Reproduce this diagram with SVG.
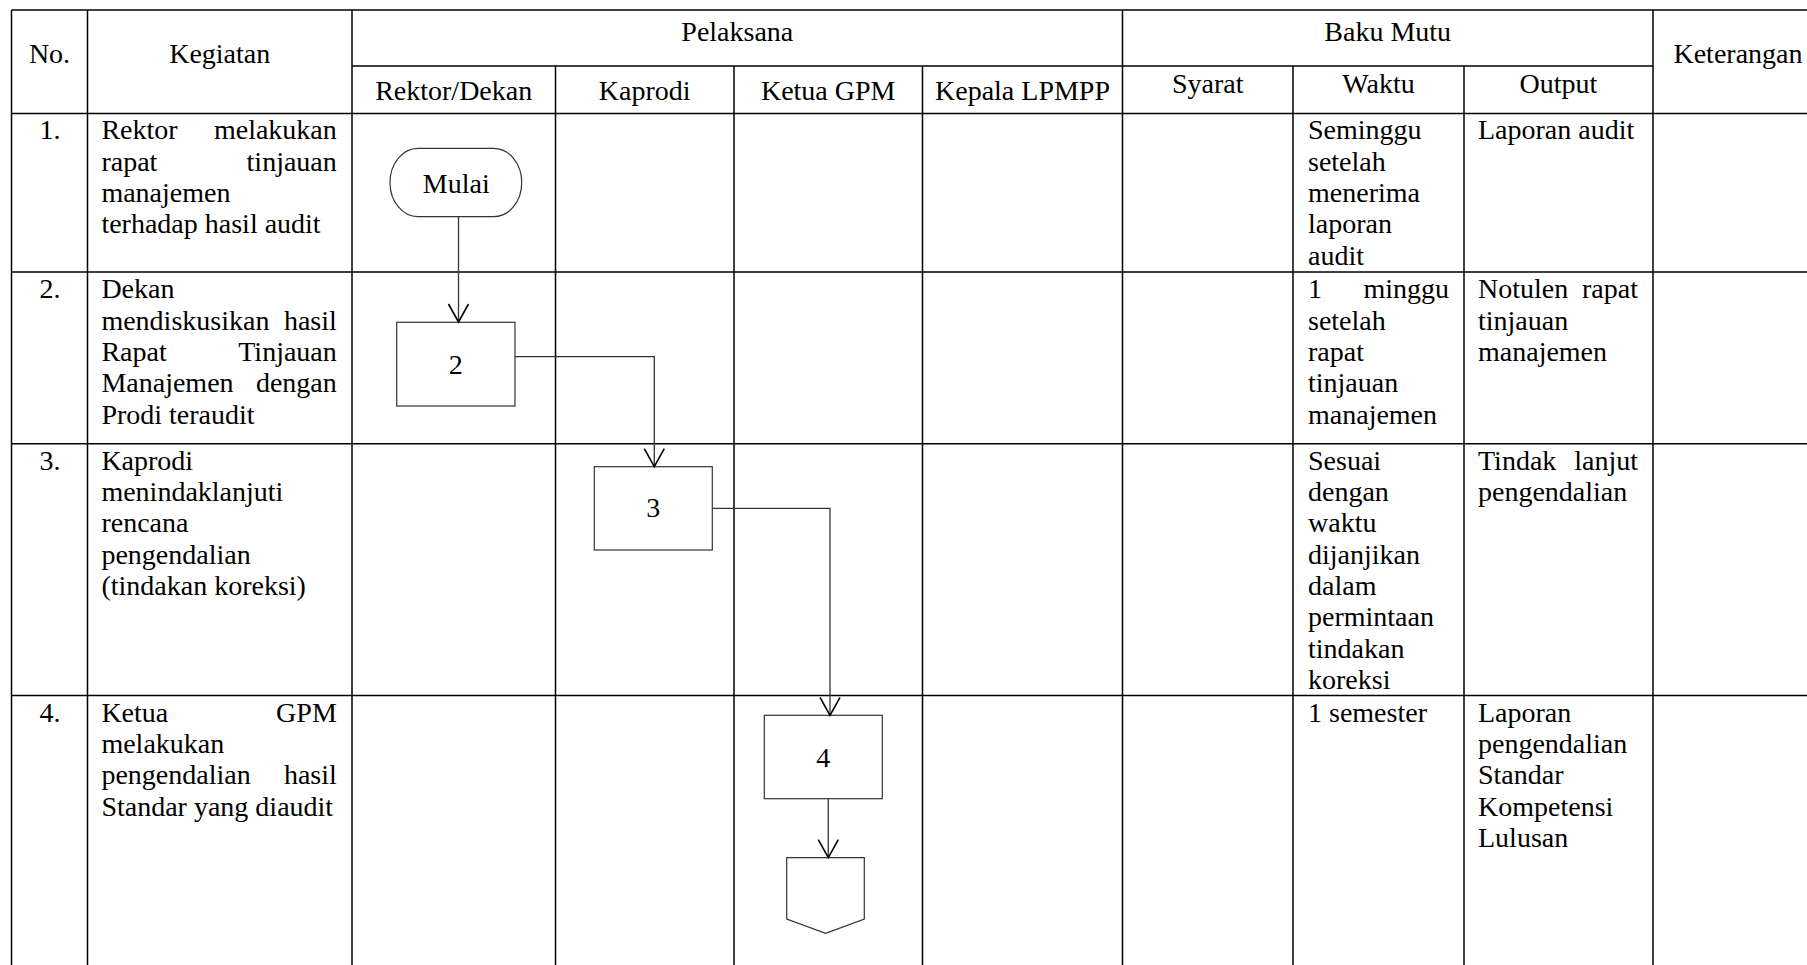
<svg xmlns="http://www.w3.org/2000/svg" width="1807" height="965" viewBox="0 0 1807 965">
<style>
  .grid line{stroke:#000;stroke-width:1.5;}
  .t{font-family:"Liberation Serif","Times New Roman",serif;font-size:28px;fill:#000;}
  .c{text-anchor:middle;}
  .e{text-anchor:end;}
  .shape{fill:#fff;stroke:#333;stroke-width:1.2;}
  .conn path{fill:none;stroke:#333;stroke-width:1.3;}
</style>
<defs>
  <marker id="arr" markerUnits="userSpaceOnUse" viewBox="-1 -1 22 22" markerWidth="22" markerHeight="22" refX="18" refY="10" orient="auto" overflow="visible">
    <path d="M0,0 L18,10 L0,20" fill="none" stroke="#000" stroke-width="1.6"/>
  </marker>
</defs>
<rect x="0" y="0" width="1807" height="965" fill="#fff"/>

<g id="table" class="grid">
  <line x1="11.5" y1="10" x2="1807" y2="10"/>
  <line x1="352" y1="66" x2="1653" y2="66"/>
  <line x1="11.5" y1="113.5" x2="1807" y2="113.5"/>
  <line x1="11.5" y1="272" x2="1807" y2="272"/>
  <line x1="11.5" y1="443.7" x2="1807" y2="443.7"/>
  <line x1="11.5" y1="695.5" x2="1807" y2="695.5"/>
  <line x1="11.5" y1="10" x2="11.5" y2="965"/>
  <line x1="87.5" y1="10" x2="87.5" y2="965"/>
  <line x1="352" y1="10" x2="352" y2="965"/>
  <line x1="555.5" y1="66" x2="555.5" y2="965"/>
  <line x1="734" y1="66" x2="734" y2="965"/>
  <line x1="922.5" y1="66" x2="922.5" y2="965"/>
  <line x1="1122.5" y1="10" x2="1122.5" y2="965"/>
  <line x1="1293" y1="66" x2="1293" y2="965"/>
  <line x1="1464" y1="66" x2="1464" y2="965"/>
  <line x1="1653" y1="10" x2="1653" y2="965"/>
</g>

<g id="header" class="t">
  <text class="c" x="49.5" y="63">No.</text>
  <text class="c" x="219.7" y="63">Kegiatan</text>
  <text class="c" x="737.3" y="40.7">Pelaksana</text>
  <text class="c" x="1387.7" y="40.7">Baku Mutu</text>
  <text class="c" x="1738" y="63">Keterangan</text>
  <text class="c" x="453.7" y="100">Rektor/Dekan</text>
  <text class="c" x="644.7" y="100">Kaprodi</text>
  <text class="c" x="828.2" y="100">Ketua GPM</text>
  <text class="c" x="1022.5" y="100">Kepala LPMPP</text>
  <text class="c" x="1207.7" y="92.7">Syarat</text>
  <text class="c" x="1378.5" y="92.7">Waktu</text>
  <text class="c" x="1558.5" y="92.7">Output</text>
</g>

<g id="row1" class="t">
  <text class="c" x="50" y="139.3">1.</text>
  <text x="101.4" y="139.3">Rektor</text><text class="e" x="336.8" y="139.3">melakukan</text>
  <text x="101.4" y="170.6">rapat</text><text class="e" x="336.8" y="170.6">tinjauan</text>
  <text x="101.4" y="201.9">manajemen</text>
  <text x="101.4" y="233.2">terhadap hasil audit</text>
  <text x="1308" y="139.3">Seminggu</text>
  <text x="1308" y="170.6">setelah</text>
  <text x="1308" y="201.9">menerima</text>
  <text x="1308" y="233.2">laporan</text>
  <text x="1308" y="264.5">audit</text>
  <text x="1478" y="139.3">Laporan audit</text>
</g>

<g id="row2" class="t">
  <text class="c" x="50" y="298.3">2.</text>
  <text x="101.4" y="298.3">Dekan</text>
  <text x="101.4" y="329.6">mendiskusikan</text><text class="e" x="336.8" y="329.6">hasil</text>
  <text x="101.4" y="360.9">Rapat</text><text class="e" x="336.8" y="360.9">Tinjauan</text>
  <text x="101.4" y="392.2">Manajemen</text><text class="e" x="336.8" y="392.2">dengan</text>
  <text x="101.4" y="423.5">Prodi teraudit</text>
  <text x="1308" y="298.3">1</text><text class="e" x="1449" y="298.3">minggu</text>
  <text x="1308" y="329.6">setelah</text>
  <text x="1308" y="360.9">rapat</text>
  <text x="1308" y="392.2">tinjauan</text>
  <text x="1308" y="423.5">manajemen</text>
  <text x="1478" y="298.3">Notulen</text><text class="e" x="1638" y="298.3">rapat</text>
  <text x="1478" y="329.6">tinjauan</text>
  <text x="1478" y="360.9">manajemen</text>
</g>

<g id="row3" class="t">
  <text class="c" x="50" y="469.7">3.</text>
  <text x="101.4" y="469.7">Kaprodi</text>
  <text x="101.4" y="501">menindaklanjuti</text>
  <text x="101.4" y="532.3">rencana</text>
  <text x="101.4" y="563.6">pengendalian</text>
  <text x="101.4" y="594.9">(tindakan koreksi)</text>
  <text x="1308" y="469.7">Sesuai</text>
  <text x="1308" y="501">dengan</text>
  <text x="1308" y="532.3">waktu</text>
  <text x="1308" y="563.6">dijanjikan</text>
  <text x="1308" y="594.9">dalam</text>
  <text x="1308" y="626.2">permintaan</text>
  <text x="1308" y="657.5">tindakan</text>
  <text x="1308" y="688.8">koreksi</text>
  <text x="1478" y="469.7">Tindak</text><text class="e" x="1638" y="469.7">lanjut</text>
  <text x="1478" y="501">pengendalian</text>
</g>

<g id="row4" class="t">
  <text class="c" x="50" y="721.7">4.</text>
  <text x="101.4" y="721.7">Ketua</text><text class="e" x="336.8" y="721.7">GPM</text>
  <text x="101.4" y="753">melakukan</text>
  <text x="101.4" y="784.3">pengendalian</text><text class="e" x="336.8" y="784.3">hasil</text>
  <text x="101.4" y="815.6">Standar yang diaudit</text>
  <text x="1308" y="721.7">1 semester</text>
  <text x="1478" y="721.7">Laporan</text>
  <text x="1478" y="753">pengendalian</text>
  <text x="1478" y="784.3">Standar</text>
  <text x="1478" y="815.6">Kompetensi</text>
  <text x="1478" y="846.9">Lulusan</text>
</g>

<g id="node-mulai">
  <rect class="shape" x="390" y="148.3" width="131.7" height="68.4" rx="28" ry="34"/>
  <text class="t c" x="456.3" y="193.3">Mulai</text>
</g>
<g id="node-2">
  <rect class="shape" x="396.7" y="322.3" width="118.3" height="83.7"/>
  <text class="t c" x="455.8" y="374">2</text>
</g>
<g id="node-3">
  <rect class="shape" x="594.3" y="466.7" width="118" height="83.3"/>
  <text class="t c" x="653.3" y="517.3">3</text>
</g>
<g id="node-4">
  <rect class="shape" x="764.3" y="715.3" width="118" height="83.4"/>
  <text class="t c" x="823.3" y="766.7">4</text>
</g>
<g id="node-offpage">
  <polygon class="shape" points="786.7,857.7 864.3,857.7 864.3,919 825.7,933.3 786.7,919"/>
</g>

<g id="connectors" class="conn">
  <path d="M458.5,216.7 L458.5,322" marker-end="url(#arr)"/>
  <path d="M515,356.7 L654.3,356.7 L654.3,466.7" marker-end="url(#arr)"/>
  <path d="M712.3,508.3 L830,508.3 L830,715.3" marker-end="url(#arr)"/>
  <path d="M828.3,798.7 L828.3,857.7" marker-end="url(#arr)"/>
</g>
</svg>
